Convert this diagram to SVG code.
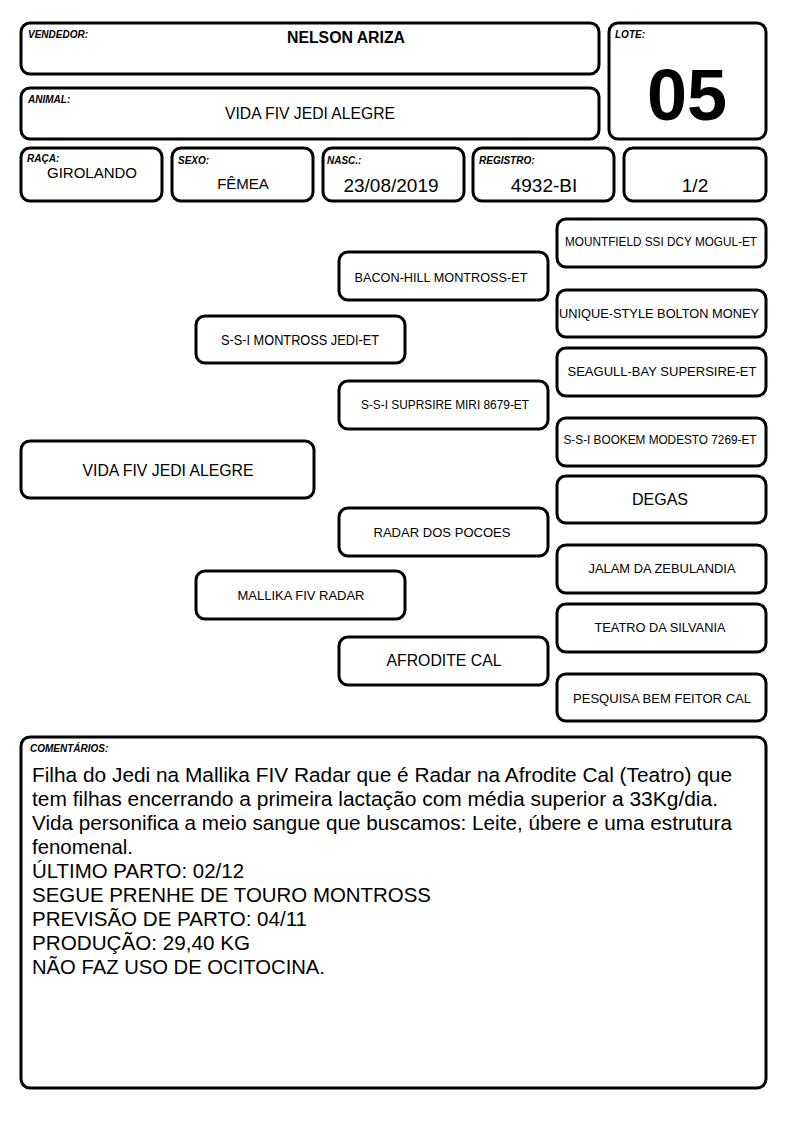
<svg xmlns="http://www.w3.org/2000/svg" width="794" height="1123" viewBox="0 0 794 1123">
<style>
rect.b{fill:#fff;stroke:#000;stroke-width:3}
text{font-family:"Liberation Sans",Arial,sans-serif;fill:#000}
.lab{font-size:10px;font-weight:bold;font-style:italic}
.c{text-anchor:middle}
.p13{font-size:13px}
.p16{font-size:16px}
.body{font-size:20.5px}
</style>
<rect width="794" height="1123" fill="#fff"/>
<g id="vendedor"><rect class="b" x="21" y="23" width="578" height="51" rx="9"/><text class="lab" x="28" y="38">VENDEDOR:</text><text x="346" y="43" class="c" font-size="16" font-weight="bold" textLength="118" lengthAdjust="spacingAndGlyphs">NELSON ARIZA</text></g>
<g id="animal"><rect class="b" x="21" y="88" width="578" height="51" rx="9"/><text class="lab" x="28" y="103">ANIMAL:</text><text x="310" y="119" class="c p16" textLength="170" lengthAdjust="spacingAndGlyphs">VIDA FIV JEDI ALEGRE</text></g>
<g id="lote"><rect class="b" x="609" y="23" width="157" height="116" rx="9"/><text class="lab" x="615" y="38">LOTE:</text><text x="687" y="120" class="c" font-size="72" font-weight="bold">05</text></g>
<g id="raca"><rect class="b" x="21" y="148" width="141" height="53" rx="9"/><text class="lab" x="27" y="162">RAÇA:</text><text x="92" y="178" class="c" font-size="15">GIROLANDO</text></g>
<g id="sexo"><rect class="b" x="172" y="148" width="141" height="53" rx="9"/><text class="lab" x="178" y="164">SEXO:</text><text x="243" y="189" class="c" font-size="15">FÊMEA</text></g>
<g id="nasc"><rect class="b" x="323" y="148" width="141" height="53" rx="9"/><text class="lab" x="327" y="164">NASC.:</text><text x="391" y="192" class="c" font-size="19">23/08/2019</text></g>
<g id="registro"><rect class="b" x="473" y="148" width="141" height="53" rx="9"/><text class="lab" x="479" y="164">REGISTRO:</text><text x="544" y="192" class="c" font-size="19">4932-BI</text></g>
<g id="fracao"><rect class="b" x="624" y="148" width="142" height="53" rx="9"/><text x="695" y="192" class="c" font-size="19">1/2</text></g>

<g id="connectors"></g>

<g id="n-vida"><rect class="b" x="21" y="441" width="293" height="57" rx="9"/><text x="168" y="476" class="c p16" textLength="171" lengthAdjust="spacingAndGlyphs">VIDA FIV JEDI ALEGRE</text></g>
<g id="n-jedi"><rect class="b" x="196" y="316" width="209" height="47" rx="9"/><text x="300" y="345" class="c" font-size="14" textLength="158" lengthAdjust="spacingAndGlyphs">S-S-I MONTROSS JEDI-ET</text></g>
<g id="n-mallika"><rect class="b" x="196" y="571" width="209" height="48" rx="9"/><text x="301" y="600" class="c p13" textLength="127" lengthAdjust="spacingAndGlyphs">MALLIKA FIV RADAR</text></g>
<g id="n-bacon"><rect class="b" x="339" y="252" width="209" height="48" rx="9"/><text x="441" y="282" class="c p13" textLength="173" lengthAdjust="spacingAndGlyphs">BACON-HILL MONTROSS-ET</text></g>
<g id="n-suprsire"><rect class="b" x="339" y="381" width="209" height="48" rx="9"/><text x="445" y="409" class="c" font-size="12" textLength="168" lengthAdjust="spacingAndGlyphs">S-S-I SUPRSIRE MIRI 8679-ET</text></g>
<g id="n-radar"><rect class="b" x="339" y="508" width="209" height="48" rx="9"/><text x="442" y="537" class="c p13" textLength="137" lengthAdjust="spacingAndGlyphs">RADAR DOS POCOES</text></g>
<g id="n-afrodite"><rect class="b" x="339" y="637" width="209" height="48" rx="9"/><text x="444" y="666" class="c p16" textLength="115" lengthAdjust="spacingAndGlyphs">AFRODITE CAL</text></g>
<g id="n-mountfield"><rect class="b" x="557" y="219" width="209" height="48" rx="9"/><text x="661" y="246" class="c" font-size="12" textLength="192" lengthAdjust="spacingAndGlyphs">MOUNTFIELD SSI DCY MOGUL-ET</text></g>
<g id="n-unique"><rect class="b" x="557" y="290" width="209" height="47" rx="9"/><text x="659" y="318" class="c p13" textLength="200" lengthAdjust="spacingAndGlyphs">UNIQUE-STYLE BOLTON MONEY</text></g>
<g id="n-seagull"><rect class="b" x="557" y="348" width="209" height="48" rx="9"/><text x="662" y="376" class="c p13" textLength="189" lengthAdjust="spacingAndGlyphs">SEAGULL-BAY SUPERSIRE-ET</text></g>
<g id="n-bookem"><rect class="b" x="557" y="418" width="209" height="48" rx="9"/><text x="660" y="444" class="c" font-size="12" textLength="193" lengthAdjust="spacingAndGlyphs">S-S-I BOOKEM MODESTO 7269-ET</text></g>
<g id="n-degas"><rect class="b" x="557" y="476" width="209" height="47" rx="9"/><text x="660" y="505" class="c p16">DEGAS</text></g>
<g id="n-jalam"><rect class="b" x="557" y="545" width="209" height="48" rx="9"/><text x="662" y="573" class="c p13" textLength="147" lengthAdjust="spacingAndGlyphs">JALAM DA ZEBULANDIA</text></g>
<g id="n-teatro"><rect class="b" x="557" y="604" width="209" height="48" rx="9"/><text x="660" y="632" class="c p13" textLength="131" lengthAdjust="spacingAndGlyphs">TEATRO DA SILVANIA</text></g>
<g id="n-pesquisa"><rect class="b" x="557" y="674" width="209" height="47" rx="9"/><text x="662" y="703" class="c p13" textLength="178" lengthAdjust="spacingAndGlyphs">PESQUISA BEM FEITOR CAL</text></g>

<g id="comentarios"><rect class="b" x="21" y="737" width="745" height="351" rx="9"/><text class="lab" x="30" y="752">COMENTÁRIOS:</text>
<text class="body" x="32" y="782" textLength="700" lengthAdjust="spacingAndGlyphs">Filha do Jedi na Mallika FIV Radar que é Radar na Afrodite Cal (Teatro) que</text>
<text class="body" x="32" y="806" textLength="686" lengthAdjust="spacingAndGlyphs">tem filhas encerrando a primeira lactação com média superior a 33Kg/dia.</text>
<text class="body" x="32" y="830" textLength="700" lengthAdjust="spacingAndGlyphs">Vida personifica a meio sangue que buscamos: Leite, úbere e uma estrutura</text>
<text class="body" x="32" y="854" textLength="101" lengthAdjust="spacingAndGlyphs">fenomenal.</text>
<text class="body" x="32" y="878" textLength="212" lengthAdjust="spacingAndGlyphs">ÚLTIMO PARTO: 02/12</text>
<text class="body" x="32" y="902" textLength="399" lengthAdjust="spacingAndGlyphs">SEGUE PRENHE DE TOURO MONTROSS</text>
<text class="body" x="32" y="926" textLength="275" lengthAdjust="spacingAndGlyphs">PREVISÃO DE PARTO: 04/11</text>
<text class="body" x="32" y="950" textLength="218" lengthAdjust="spacingAndGlyphs">PRODUÇÃO: 29,40 KG</text>
<text class="body" x="32" y="974" textLength="293" lengthAdjust="spacingAndGlyphs">NÃO FAZ USO DE OCITOCINA.</text>
</g>
</svg>
